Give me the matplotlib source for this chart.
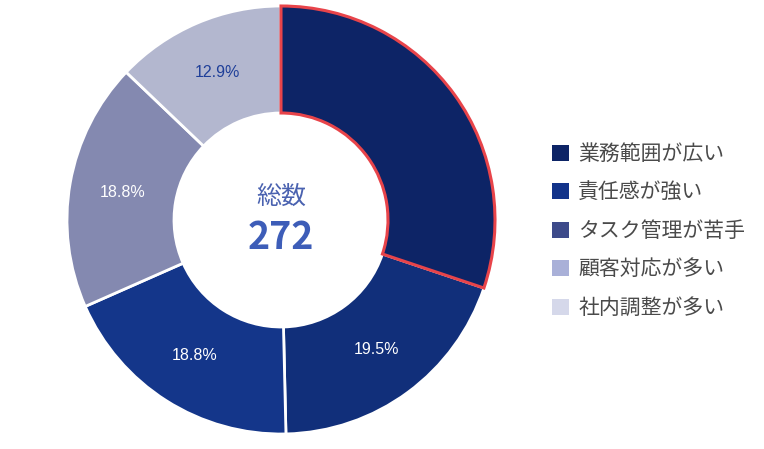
import matplotlib
matplotlib.use("Agg")
import matplotlib.pyplot as plt
from matplotlib.patches import Patch

plt.rcParams['font.family'] = ['Noto Sans CJK JP', 'DejaVu Sans']

# answers (count of 272 respondents)
labels = ['業務範囲が広い', '責任感が強い', 'タスク管理が苦手', '顧客対応が多い', '社内調整が多い']
counts = [82, 53, 51, 51, 35]
total = sum(counts)

slice_colors = ['#0d2466', '#112f7a', '#14368a', '#8489b0', '#b3b7cf']
legend_colors = ['#0d2466', '#12338a', '#3d4a8a', '#a9b0d8', '#d5d8ea']
pct_colors = ['white', 'white', 'white', 'white', '#1f3f99']

fig = plt.figure(figsize=(7.64, 4.49), dpi=100)
ax = fig.add_axes([67 / 764, 15 / 449, 428 / 764, 428 / 449])

wedges, texts, autotexts = ax.pie(
    counts, colors=slice_colors, startangle=90, counterclock=False,
    radius=1, autopct='%.1f%%', pctdistance=0.75,
    wedgeprops=dict(width=0.5, edgecolor='white', linewidth=2),
    textprops=dict(fontsize=11.5, family='Liberation Sans'))

for t, c in zip(autotexts, pct_colors):
    t.set_color(c)

# highlight first slice
wedges[0].set_edgecolor('#e8444a')
wedges[0].set_linewidth(2.2)
wedges[0].set_zorder(5)

ax.set_xlim(-1, 1)
ax.set_ylim(-1, 1)
ax.set_aspect('equal')
ax.axis('off')

ax.text(0, 0.11, '総数', ha='center', va='center', fontsize=18, color='#4a62b0')
ax.text(0, -0.08, str(total), ha='center', va='center', fontsize=27,
        fontweight='bold', color='#3d5db8')

handles = [Patch(facecolor=c, edgecolor='none') for c in legend_colors]
fig.legend(handles, labels, loc='center left', bbox_to_anchor=(533 / 764, 1 - 231 / 449),
           frameon=False, fontsize=15, handlelength=0.82, handleheight=0.82,
           handletextpad=0.45, labelspacing=0.79, labelcolor='#4a4a4a')

fig.savefig('out.png', dpi=100)
